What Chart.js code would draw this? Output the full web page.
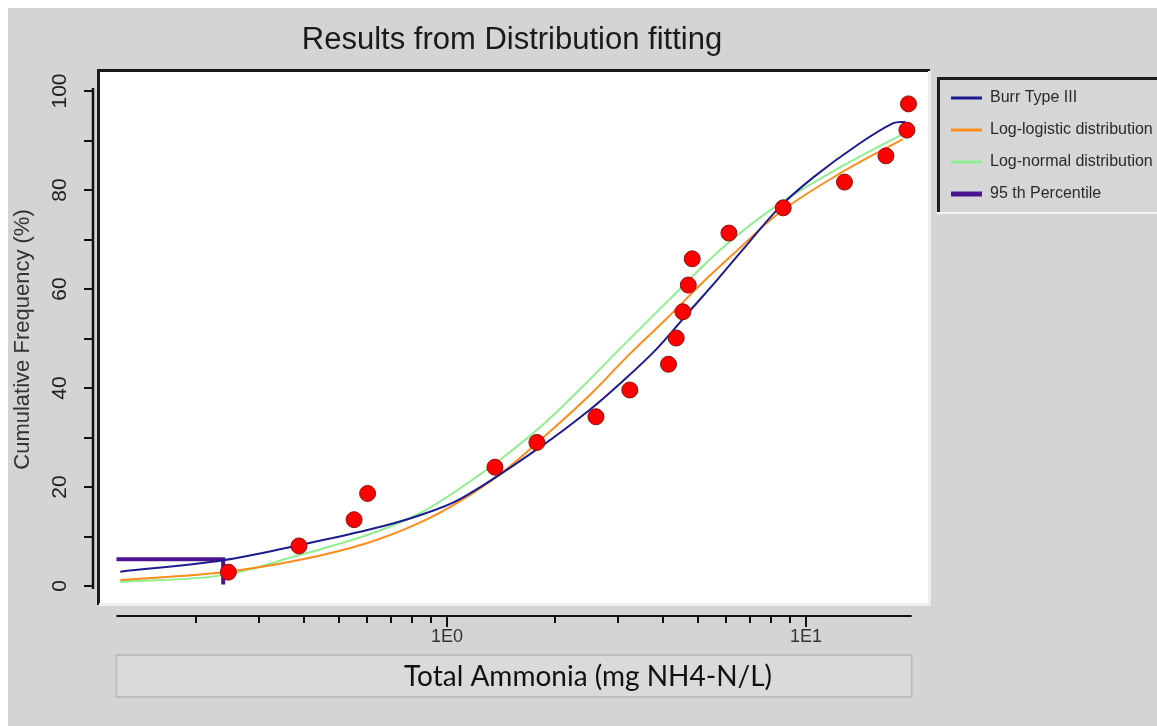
<!DOCTYPE html>
<html>
<head>
<meta charset="utf-8">
<title>Results from Distribution fitting</title>
<script src="https://cdn.jsdelivr.net/npm/chart.js@4.4.1/dist/chart.umd.min.js"></script>
<style>
  html, body { margin: 0; padding: 0; background: #fff; }
  canvas { display: block; }
</style>
</head>
<body>
<canvas id="fitChart" width="1157" height="726"></canvas>
<script>
// observed concentrations (mg NH4-N/L) and cumulative frequency (%)
const obsConc = [0.246, 0.387, 0.551, 0.601, 1.36, 1.78, 2.60, 3.23, 4.14, 4.35, 4.54, 4.70, 4.82, 6.10, 8.64, 12.8, 16.7, 19.1, 19.3];
const obsFreq = [2.8, 8.1, 13.4, 18.7, 24.0, 29.0, 34.2, 39.6, 44.8, 50.1, 55.4, 60.8, 66.1, 71.3, 76.4, 81.6, 86.9, 92.1, 97.4];

// fitted curves
const burrX = [0.123, 0.238, 0.39, 0.60, 0.825, 1.09, 1.82, 2.50, 3.09, 3.85, 4.75, 5.65, 6.55, 8.46, 10.5, 13.9, 17.5, 18.9];
const burrY = [2.9, 5.2, 8.3, 11.3, 14.1, 17.6, 28.1, 35.6, 41.4, 48.0, 55.6, 61.8, 67.3, 76.6, 82.6, 89.1, 93.5, 93.8];
const logLogX = [0.123, 0.238, 0.39, 0.60, 0.84, 1.09, 1.405, 1.82, 2.50, 3.23, 4.10, 5.17, 6.26, 8.46, 12.4, 18.6];
const logLogY = [1.2, 2.8, 5.3, 8.7, 12.8, 17.2, 22.6, 29.5, 38.6, 46.9, 54.1, 61.4, 67.0, 75.5, 83.3, 90.3];
const logNormX = [0.123, 0.238, 0.39, 0.60, 0.84, 1.09, 1.405, 1.82, 2.35, 3.03, 4.18, 5.87, 8.46, 12.4, 18.6];
const logNormY = [0.8, 2.2, 6.3, 10.3, 14.7, 19.8, 25.5, 32.1, 39.8, 47.9, 58.0, 68.4, 77.3, 84.5, 91.3];
const pctX = [0.12, 0.238, 0.238];
const pctY = [5.4, 5.4, 0.3];

// axes
const xMajorTicks = [1, 10];
const xTickLabels = ['1E0', '1E1'];
const xMinorTicks = [0.2, 0.3, 0.4, 0.5, 0.6, 0.7, 0.8, 0.9, 2, 3, 4, 5, 6, 7, 8, 9];
const xAxisRange = [0.12, 19.7];
const yMajorTicks = [0, 20, 40, 60, 80, 100];
const yTickLabels = ['0', '20', '40', '60', '80', '100'];
const yMinorTicks = [10, 30, 50, 70, 90];
const yAxisRange = [-0.6, 100.6];
const xMin = 0.108, xMax = 21.87;
const yMin = -3.43, yMax = 103.84;

const seriesNames = ['Burr Type III', 'Log-logistic distribution', 'Log-normal distribution', '95 th Percentile'];

function pts(xs, ys) {
    return xs.map((x, i) => ({ x: x, y: ys[i] }));
}

const FONT = '"Liberation Sans", Arial, sans-serif';

function text(ctx, str, x, y, font, opts) {
    opts = opts || {};
    ctx.save();
    ctx.font = font;
    ctx.fillStyle = opts.color || '#222';
    ctx.textAlign = opts.align || 'center';
    ctx.textBaseline = opts.baseline || 'middle';
    ctx.translate(x, y);
    if (opts.rotate) ctx.rotate(opts.rotate);
    ctx.fillText(str, 0, 0);
    ctx.restore();
}

const decorPlugin = {
    id: 'decor',
    beforeDraw(chart) {
        const ctx = chart.ctx;
        const a = chart.chartArea;
        ctx.save();
        ctx.fillStyle = '#ffffff';
        ctx.fillRect(0, 0, chart.width, chart.height);
        ctx.fillStyle = '#d4d4d4';
        ctx.fillRect(8, 8, chart.width - 8, chart.height - 8);

        // plot panel with sunken border
        ctx.fillStyle = '#ffffff';
        ctx.fillRect(a.left, a.top, a.width, a.height);
        ctx.fillStyle = '#1a1a1a';
        ctx.fillRect(a.left - 3, a.top - 3, a.width + 5, 3);
        ctx.fillRect(a.left - 3, a.top - 3, 3, a.height + 5);
        ctx.fillStyle = '#eeeeee';
        ctx.fillRect(a.right, a.top - 1, 3, a.height + 4);
        ctx.fillRect(a.left - 1, a.bottom, a.width + 4, 3);
        ctx.restore();
    },
    afterDraw(chart) {
        const ctx = chart.ctx;
        const a = chart.chartArea;
        const xs = chart.scales.x;
        const ys = chart.scales.y;
        ctx.save();

        // title
        text(ctx, 'Results from Distribution fitting', (a.left + a.right) / 2 - 2, 49, '31px ' + FONT,
            { color: '#1a1a1a', baseline: 'alphabetic' });

        // y axis (detached, left of the panel)
        const yAxisX = a.left - 7;
        ctx.strokeStyle = '#111';
        ctx.lineWidth = 2.5;
        ctx.beginPath();
        ctx.moveTo(yAxisX, ys.getPixelForValue(yAxisRange[1]));
        ctx.lineTo(yAxisX, ys.getPixelForValue(yAxisRange[0]));
        ctx.stroke();
        ctx.lineWidth = 2;
        yMajorTicks.concat(yMinorTicks).forEach(v => {
            const p = Math.round(ys.getPixelForValue(v));
            ctx.beginPath();
            ctx.moveTo(yAxisX, p);
            ctx.lineTo(yAxisX - 9, p);
            ctx.stroke();
        });
        yMajorTicks.forEach((v, i) => {
            text(ctx, yTickLabels[i], 60, ys.getPixelForValue(v), '21px ' + FONT,
                { rotate: -Math.PI / 2, color: '#222' });
        });
        text(ctx, 'Cumulative Frequency (%)', 23, (a.top + a.bottom) / 2 + 2, '22px ' + FONT,
            { rotate: -Math.PI / 2, color: '#333' });

        // x axis (detached, below the panel)
        const xAxisY = a.bottom + 13;
        ctx.lineWidth = 2;
        ctx.beginPath();
        ctx.moveTo(xs.getPixelForValue(xAxisRange[0]), xAxisY);
        ctx.lineTo(xs.getPixelForValue(xAxisRange[1]), xAxisY);
        ctx.stroke();
        xMinorTicks.forEach(v => {
            const p = Math.round(xs.getPixelForValue(v));
            ctx.beginPath();
            ctx.moveTo(p, xAxisY);
            ctx.lineTo(p, xAxisY + 7);
            ctx.stroke();
        });
        xMajorTicks.forEach(v => {
            const p = Math.round(xs.getPixelForValue(v));
            ctx.beginPath();
            ctx.moveTo(p, xAxisY);
            ctx.lineTo(p, xAxisY + 11);
            ctx.stroke();
        });

        // x axis title box
        const bx0 = xs.getPixelForValue(xAxisRange[0]);
        const bx1 = xs.getPixelForValue(xAxisRange[1]);
        ctx.fillStyle = '#dadada';
        ctx.fillRect(bx0, 655, bx1 - bx0, 42);
        ctx.strokeStyle = '#bdbdbd';
        ctx.lineWidth = 2;
        ctx.strokeRect(bx0, 655, bx1 - bx0, 42);
        text(ctx, 'Total Ammonia (mg NH4-N/L)', 588, 677, '28px Lato, "Open Sans", sans-serif',
            { color: '#111' });

        // legend
        const lx = a.right + 9, ly = 77, lw = chart.width - lx, lh = 135;
        ctx.fillStyle = '#d6d6d6';
        ctx.fillRect(lx, ly, lw, lh);
        ctx.fillStyle = '#1e1e1e';
        ctx.fillRect(lx, ly, lw, 3);
        ctx.fillRect(lx, ly, 3, lh);
        ctx.fillStyle = '#f4f4f4';
        ctx.fillRect(lx, ly + lh, lw, 2);
        const items = chart.data.datasets.filter(ds => ds.showLine);
        items.forEach((ds, i) => {
            const cy = 98 + i * 32;
            ctx.strokeStyle = ds.borderColor;
            ctx.lineWidth = ds.borderWidth + 1;
            ctx.beginPath();
            ctx.moveTo(lx + 14, cy);
            ctx.lineTo(lx + 45, cy);
            ctx.stroke();
            text(ctx, ds.label, lx + 53, cy, '16px ' + FONT, { align: 'left', color: '#2a2a2a' });
        });
        ctx.restore();
    }
};

const chart = new Chart(document.getElementById('fitChart'), {
    type: 'scatter',
    data: {
        datasets: [
            {
                label: 'Observed',
                data: pts(obsConc, obsFreq),
                backgroundColor: '#ff0000',
                borderColor: '#8a1212',
                borderWidth: 1,
                pointRadius: 8,
                pointHoverRadius: 8,
                order: 0
            },
            {
                label: seriesNames[0],
                data: pts(burrX, burrY),
                showLine: true,
                borderColor: '#1c1c8e',
                borderWidth: 2,
                pointRadius: 0,
                tension: 0.35,
                order: 1
            },
            {
                label: seriesNames[1],
                data: pts(logLogX, logLogY),
                showLine: true,
                borderColor: '#ff8c1a',
                borderWidth: 2,
                pointRadius: 0,
                tension: 0.35,
                order: 3
            },
            {
                label: seriesNames[2],
                data: pts(logNormX, logNormY),
                showLine: true,
                borderColor: '#90ee90',
                borderWidth: 2,
                pointRadius: 0,
                tension: 0.35,
                order: 4
            },
            {
                label: seriesNames[3],
                data: pts(pctX, pctY),
                showLine: true,
                borderColor: '#4b1591',
                borderWidth: 4,
                pointRadius: 0,
                tension: 0,
                order: 2
            }
        ]
    },
    options: {
        responsive: false,
        animation: false,
        devicePixelRatio: 1,
        layout: { padding: { top: 72, right: 229, bottom: 0, left: 0 } },
        plugins: {
            legend: { display: false },
            title: { display: false },
            tooltip: { enabled: false }
        },
        scales: {
            x: {
                type: 'logarithmic',
                min: xMin,
                max: xMax,
                afterFit: s => { s.height = 123; },
                afterBuildTicks: s => { s.ticks = xMajorTicks.map(v => ({ value: v })); },
                grid: { display: false, drawTicks: false },
                border: { display: false },
                ticks: {
                    autoSkip: false,
                    maxRotation: 0,
                    padding: 23,
                    color: '#333',
                    font: { family: FONT, size: 18 },
                    callback: (v, i) => xTickLabels[i]
                }
            },
            y: {
                min: yMin,
                max: yMax,
                afterFit: s => { s.width = 100; },
                grid: { display: false, drawTicks: false },
                border: { display: false },
                ticks: { display: false }
            }
        }
    },
    plugins: [decorPlugin]
});
</script>
</body>
</html>
